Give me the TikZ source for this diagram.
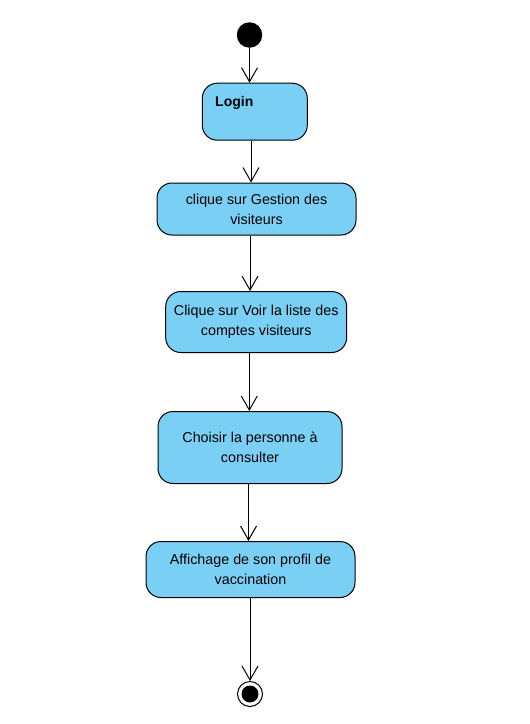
\documentclass[tikz,border=0pt]{standalone}
\usepackage{fontspec}
\setmainfont{Liberation Sans}
\usetikzlibrary{arrows.meta,calc}
\definecolor{actfill}{RGB}{122,207,245}
\tikzset{
  actbox/.style={draw=black, line width=1pt, fill=actfill, rounded corners=15pt,
    align=center, font=\fontsize{14.3}{20}\selectfont, inner sep=0pt},
  flow/.style={draw=black, line width=1pt, -{Straight Barb[length=14pt,width=16pt,line width=1pt]}},
}
\begin{document}
\begin{tikzpicture}[x=1pt,y=-1pt]
\useasboundingbox (0,0) rectangle (530,724);
\node[circle, fill=black, minimum size=25.5pt, inner sep=0pt] (init) at (249.5,35) {};
\node[actbox, minimum width=105pt, minimum height=57pt] (login) at (254.8,111.7) {};
\node[anchor=west, font=\fontsize{14}{16}\selectfont\bfseries, inner sep=0pt] (logintext) at (215,102.5) {Login};
\node[actbox, minimum width=199pt, minimum height=52pt] (n2) at (256.5,209) {clique sur Gestion des\\visiteurs};
\node[actbox, minimum width=181pt, minimum height=61pt] (n3) at (256.2,322) {Clique sur Voir la liste des\\comptes visiteurs};
\node[actbox, minimum width=184pt, minimum height=72pt] (n4) at (250,447.5) {Choisir la personne à\\consulter};
\node[actbox, minimum width=209pt, minimum height=56pt] (n5) at (250.5,569.5) {Affichage de son profil de\\vaccination};
\node[circle, draw=black, line width=1pt, fill=white, minimum size=25pt, inner sep=0pt] (final) at (250,694) {};
\node[circle, fill=black, minimum size=17pt, inner sep=0pt] (finaldot) at (final) {};
\draw[flow] (init) -- (init |- login.north);
\draw[flow] (login.south -| 251,0) -- (n2.north -| 251,0);
\draw[flow] (n2.south -| 250,0) -- (n3.north -| 250,0);
\draw[flow] (n3.south -| 249.3,0) -- (n4.north -| 249.3,0);
\draw[flow] (n4.south -| 248.5,0) -- (n5.north -| 248.5,0);
\draw[flow] (n5.south -| final) -- (final);
\end{tikzpicture}
\end{document}
